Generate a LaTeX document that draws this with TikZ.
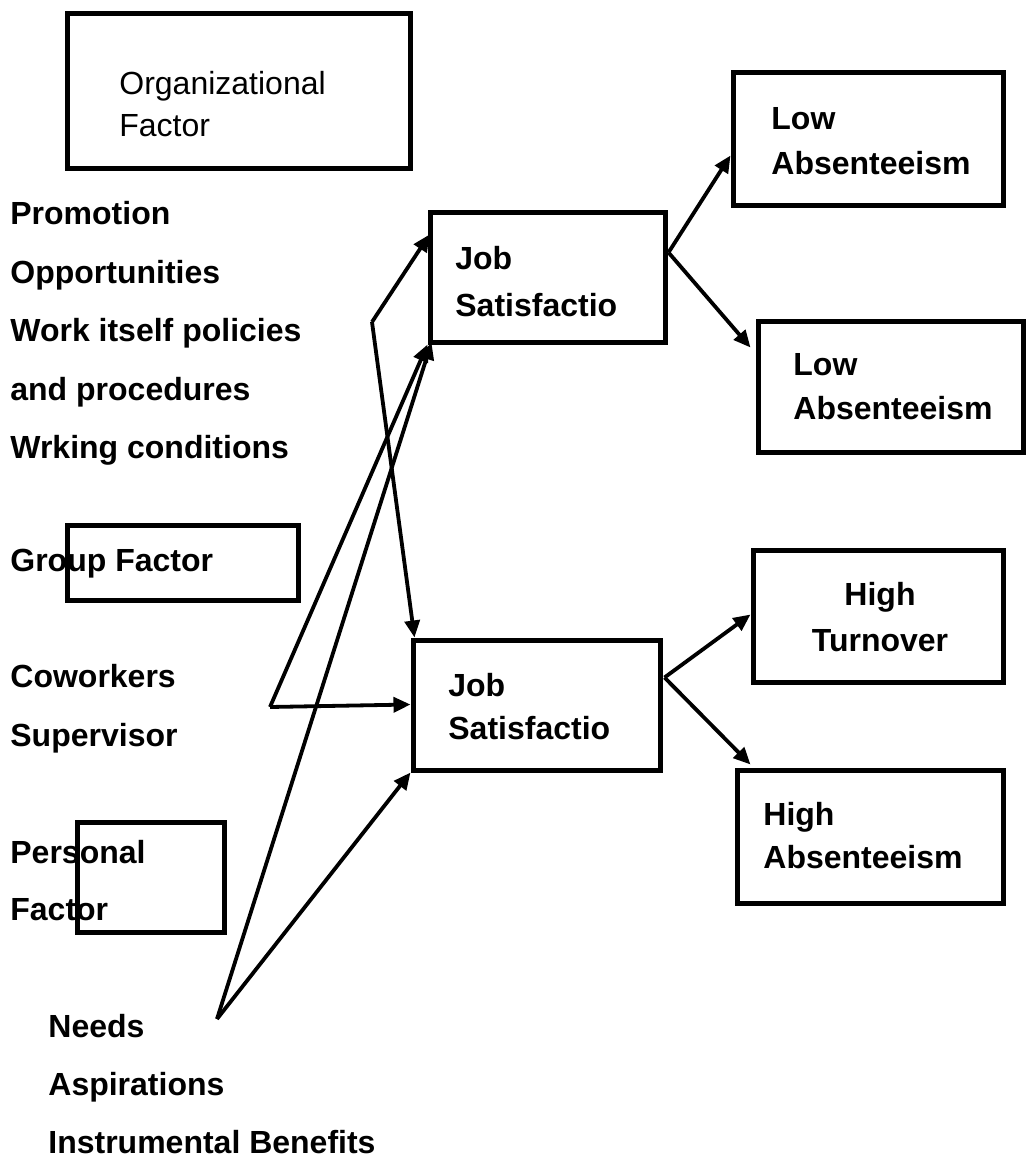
\documentclass[tikz,border=0pt]{standalone}
\usepackage{fontspec}
\setmainfont{Liberation Sans}
\usetikzlibrary{arrows.meta,fit,calc}
\begin{document}
\begin{tikzpicture}[x=0.5pt,y=-0.5pt,
  box/.style={draw, line width=2.5pt, inner sep=0pt},
  lbl/.style={anchor=base west, inner sep=0pt, font=\fontsize{16}{19}\selectfont\bfseries},
  rlbl/.style={anchor=base west, inner sep=0pt, font=\fontsize{16}{19}\selectfont},
  arr/.style={line width=1.9pt, -{Triangle[length=8.5pt,width=7.5pt]}}]
\useasboundingbox (0,0) rectangle (1025,1157);
% boxes
\node[box, fit={(67,13)(410,168)}] (org) {};
\node[box, fit={(733,72)(1003,205)}] (low1) {};
\node[box, fit={(430,212)(665,342)}] (js1) {};
\node[box, fit={(758,321)(1023,452)}] (low2) {};
\node[box, fit={(67,525)(298,600)}] (grp) {};
\node[box, fit={(753,550)(1003,682)}] (turn) {};
\node[box, fit={(413,640)(660,770)}] (js2) {};
\node[box, fit={(737,770)(1003,903)}] (high) {};
\node[box, fit={(77,822)(224,932)}] (pers) {};
% texts
\node[rlbl] (t1) at (119,94) {Organizational};
\node[rlbl] (t2) at (119,136) {Factor};
\node[lbl] (t3) at (771,129) {Low};
\node[lbl] (t4) at (771,174) {Absenteeism};
\node[lbl] (t5) at (455,269) {Job};
\node[lbl] (t6) at (455,316) {Satisfactio};
\node[lbl] (t7) at (793,375) {Low};
\node[lbl] (t8) at (793,419) {Absenteeism};
\node[lbl] (p1) at (10,224) {Promotion};
\node[lbl] (p2) at (10,283) {Opportunities};
\node[lbl] (p3) at (10,341) {Work itself policies};
\node[lbl] (p4) at (10,400) {and procedures};
\node[lbl] (p5) at (10,458) {Wrking conditions};
\node[lbl] (g1) at (10,571) {Group Factor};
\node[lbl] (c1) at (10,687) {Coworkers};
\node[lbl] (c2) at (10,746) {Supervisor};
\node[lbl] (pf1) at (10,863) {Personal};
\node[lbl] (pf2) at (10,920) {Factor};
\node[lbl] (n1) at (48,1037) {Needs};
\node[lbl] (n2) at (48,1095) {Aspirations};
\node[lbl] (n3) at (48,1153) {Instrumental Benefits};
\node[lbl, anchor=base] (h1) at (880,605) {High};
\node[lbl, anchor=base] (h2) at (880,651) {Turnover};
\node[lbl] (j1) at (448,696) {Job};
\node[lbl] (j2) at (448,739) {Satisfactio};
\node[lbl] (ha1) at (763,825) {High};
\node[lbl] (ha2) at (763,868) {Absenteeism};
% branch points
\coordinate (A) at (372,322);
\coordinate (B) at (270,707);
\coordinate (C) at (217,1019);
% connectors
\draw[arr] (A) -- ($(js1.north west)+(2,25)$);
\draw[arr] (A) -- ($(js2.north west)+(4,0)$);
\draw[arr] (B) -- (js1.south west);
\draw[arr] (B) -- ($(js2.north west)+(0,67)$);
\draw[arr] (C) -- ($(js1.south west)+(4,-2)$);
\draw[arr] (C) -- (js2.south west);
\draw[arr] ($(js1.north east)+(1,43)$) -- ($(low1.north west)+(0,86)$);
\draw[arr] ($(js1.north east)+(1,43)$) -- ($(low2.north west)+(-5,29)$);
\draw[arr] ($(js2.north east)+(2,40)$) -- ($(turn.north west)+(0,67)$);
\draw[arr] ($(js2.north east)+(2,40)$) -- ($(high.north west)+(16,-3)$);
\end{tikzpicture}
\end{document}
